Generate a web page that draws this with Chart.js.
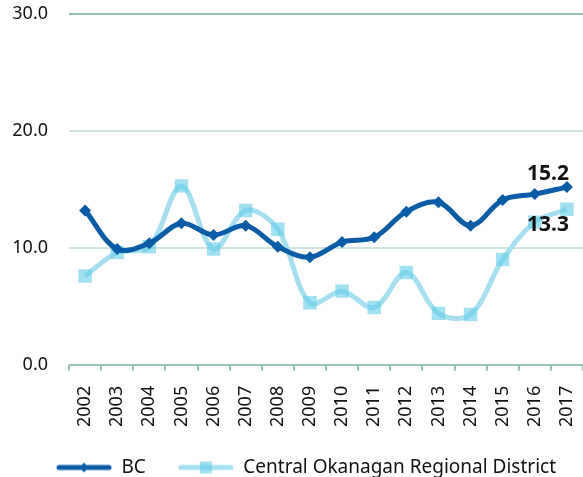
<!DOCTYPE html>
<html>
<head>
<meta charset="utf-8">
<script src="https://cdn.jsdelivr.net/npm/chart.js@4.4.0/dist/chart.umd.min.js"></script>
<style>
  body { margin: 0; background: #fff; }
  #wrap { width: 583px; height: 477px; }
</style>
</head>
<body>
<div id="wrap"><canvas id="lineChart" width="583" height="477"></canvas></div>
<script>
var years = ["2002","2003","2004","2005","2006","2007","2008","2009","2010","2011","2012","2013","2014","2015","2016","2017"]
var bcValues = [13.2, 9.9, 10.4, 12.1, 11.1, 11.9, 10.1, 9.2, 10.5, 10.9, 13.1, 13.9, 11.9, 14.1, 14.6, 15.2]
var cordValues = [7.6, 9.6, 10.1, 15.3, 9.9, 13.2, 11.6, 5.3, 6.3, 4.9, 7.9, 4.4, 4.3, 9.0, 12.2, 13.3]
var yTicks = [0, 10, 20, 30]

var bcColor = '#0a5ca6'
var cordLine = '#a6e0f0'
var cordMarker = 'rgba(100,205,232,0.6)'

// little canvases used as legend icons (line with marker in the middle)
function legendIcon(kind){
    var c = document.createElement('canvas')
    c.width = 56; c.height = 16
    var g = c.getContext('2d')
    g.lineCap = 'round'
    g.lineWidth = 5
    g.strokeStyle = kind == 'bc' ? bcColor : cordLine
    g.beginPath(); g.moveTo(3, 8); g.lineTo(53, 8); g.stroke()
    if (kind == 'bc') {
        g.fillStyle = bcColor
        g.beginPath(); g.moveTo(28, 3); g.lineTo(32, 8); g.lineTo(28, 13); g.lineTo(24, 8); g.closePath(); g.fill()
    } else {
        g.fillStyle = cordMarker
        g.fillRect(22, 2, 12, 12)
    }
    return c
}
var icons = [legendIcon('bc'), legendIcon('cord')]

var endLabels = {
    id: 'endLabels',
    afterLayout: function(chart){
        // legend sits a bit right of centre in the original
        chart.legend.left += 13
        chart.legend.right += 13
    },
    afterDatasetsDraw: function(chart){
        var ctx = chart.ctx
        ctx.save()
        ctx.font = 'bold 21px "Noto Sans"'
        ctx.fillStyle = '#111'
        ctx.textAlign = 'center'
        ctx.textBaseline = 'middle'
        var m0 = chart.getDatasetMeta(0).data
        var p0 = m0[m0.length - 1]
        ctx.fillText(bcValues[bcValues.length - 1].toFixed(1), p0.x - 19, p0.y - 13)
        var m1 = chart.getDatasetMeta(1).data
        var p1 = m1[m1.length - 1]
        ctx.fillText(cordValues[cordValues.length - 1].toFixed(1), p1.x - 19, p1.y + 16)
        ctx.restore()
    }
}

var ctx = document.getElementById("lineChart").getContext('2d')
var lineChart = new Chart(ctx, {
    type: 'line',
    data: {
        labels: years,
        datasets: [
            {
                label: "BC",
                data: bcValues,
                borderColor: bcColor,
                backgroundColor: bcColor,
                borderWidth: 5,
                pointStyle: 'rectRot',
                pointRadius: 6,
                pointBorderWidth: 0,
                tension: 0.35,
                fill: false
            },
            {
                label: "Central Okanagan Regional District",
                data: cordValues,
                borderColor: cordLine,
                backgroundColor: cordMarker,
                borderWidth: 5,
                pointStyle: 'rect',
                pointRadius: 9.5,
                pointBorderWidth: 0,
                tension: 0.35,
                fill: false
            }
        ]
    },
    options: {
        responsive: false,
        animation: false,
        layout: { autoPadding: false, padding: { top: 4, right: -3, left: 0, bottom: -10 } },
        plugins: {
            tooltip: { enabled: false },
            legend: {
                position: 'bottom',
                labels: {
                    usePointStyle: true,
                    pointStyleWidth: 56,
                    padding: 32,
                    color: '#111',
                    font: { family: 'Noto Sans', size: 19 },
                    generateLabels: function(chart){
                        var items = Chart.defaults.plugins.legend.labels.generateLabels(chart)
                        items.forEach(function(it, i){ it.pointStyle = icons[i] })
                        return items
                    }
                }
            }
        },
        scales: {
            x: {
                offset: true,
                grid: {
                    offset: true,
                    drawOnChartArea: false,
                    color: '#94c4b2',
                    tickLength: 6,
                    lineWidth: 2
                },
                border: { display: false },
                afterFit: function(axis){
                    axis.paddingLeft = 0
                    axis.paddingRight = 0
                    axis.height = axis.height - 16
                },
                ticks: {
                    minRotation: 90,
                    maxRotation: 90,
                    autoSkip: false,
                    color: '#111',
                    padding: 15,
                    font: { family: 'Noto Sans', size: 18 }
                }
            },
            y: {
                min: 0,
                max: 30,
                afterBuildTicks: function(axis){
                    axis.ticks = yTicks.map(function(v){ return { value: v } })
                },
                afterFit: function(axis){
                    axis.width = 69
                    axis.paddingTop = 14
                    axis.paddingBottom = 0
                },
                grid: {
                    drawTicks: false,
                    lineWidth: 2,
                    color: function(c){
                        if (c.tick && (c.tick.value == 0 || c.tick.value == 30)) return '#94c4b2'
                        return '#cfe4dc'
                    }
                },
                border: { display: false },
                ticks: {
                    padding: 21,
                    color: '#111',
                    font: { family: 'Noto Sans', size: 18 },
                    callback: function(v){ return Number(v).toFixed(1) }
                }
            }
        }
    },
    plugins: [endLabels]
})
</script>
</body>
</html>
